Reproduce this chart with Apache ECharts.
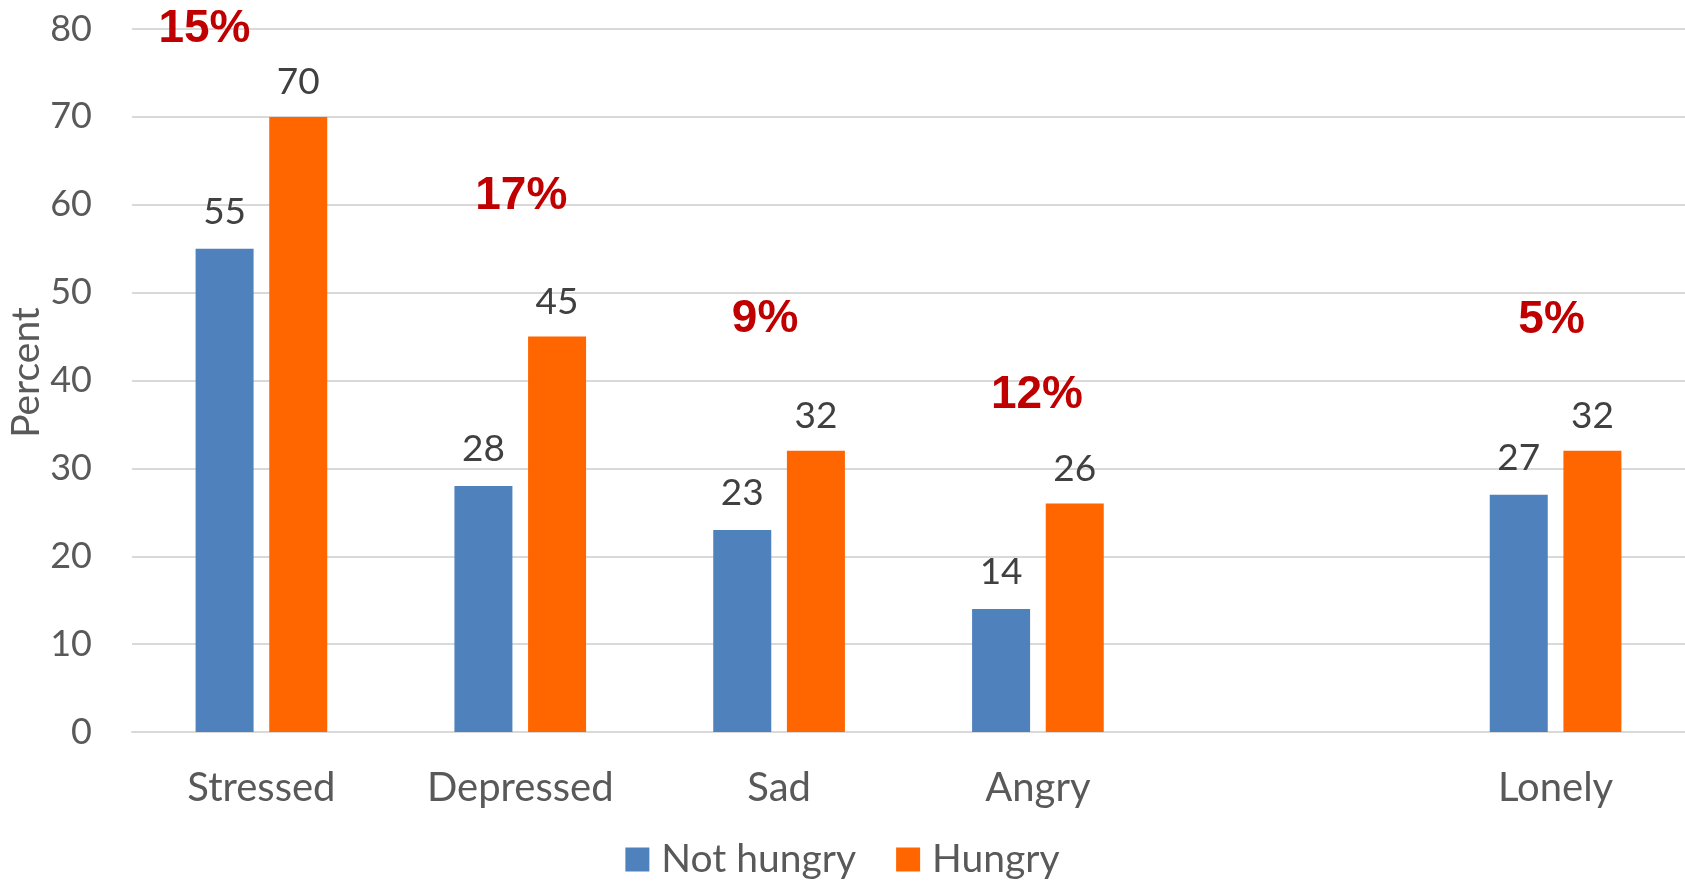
<!DOCTYPE html>
<html>
<head>
<meta charset="utf-8">
<title>Feelings by hunger status</title>
<script src="https://cdn.jsdelivr.net/npm/echarts@6/dist/echarts.min.js"></script>
<style>
  html, body { margin: 0; padding: 0; background: #ffffff; }
  #chart { width: 1685px; height: 882px; }
</style>
</head>
<body>
<div id="chart"></div>
<script>
// Categories (the blank slot leaves an empty gap before "Lonely")
const categories = ['Stressed', 'Depressed', 'Sad', 'Angry', '', 'Lonely'];

// Percent reporting each feeling
const notHungry = [55, 28, 23, 14, null, 27];
const hungry    = [70, 45, 32, 26, null, 32];

// Y axis range
const yMin = 0;
const yMax = 80;
const yStep = 10;

// Gap between the two groups, shown as a red percentage above each pair
const gapLabels = categories.map((c, i) =>
  hungry[i] == null || notHungry[i] == null ? '' : (hungry[i] - notHungry[i]) + '%'
);

// Where each red gap label sits: value level on the y axis and a horizontal nudge in px
const gapPlacement = [
  { level: 80.0, dx: -57 },
  { level: 61.0, dx: 1 },
  { level: 47.0, dx: -14 },
  { level: 38.3, dx: -1 },
  null,
  { level: 46.9, dx: -4 }
];

const FONT = 'Lato, "Open Sans", sans-serif';
const GREY = '#595959';
const DARK = '#404040';

const gapData = [];
categories.forEach((c, i) => {
  const p = gapPlacement[i];
  if (p && gapLabels[i]) {
    gapData.push({
      value: [c, p.level],
      label: { offset: [p.dx, 0], formatter: gapLabels[i] }
    });
  }
});

const chart = echarts.init(document.getElementById('chart'), null, { renderer: 'canvas' });

chart.setOption({
  animation: false,
  backgroundColor: '#ffffff',
  grid: { left: 132, right: 0, top: 29, bottom: 150, containLabel: false, outerBoundsMode: 'none' },
  legend: {
    bottom: -2,
    left: 'center',
    itemWidth: 24,
    itemHeight: 24,
    itemGap: 40,
    icon: 'rect',
    data: ['Not hungry', 'Hungry'],
    textStyle: { fontFamily: FONT, fontSize: 39, color: GREY, padding: [0, 0, 0, 7] }
  },
  xAxis: {
    type: 'category',
    data: categories,
    axisTick: { show: false },
    axisLine: { lineStyle: { color: '#d9d9d9', width: 2 } },
    axisLabel: { fontFamily: FONT, fontSize: 40, color: GREY, margin: 36, interval: 0 }
  },
  yAxis: {
    type: 'value',
    min: yMin,
    max: yMax,
    interval: yStep,
    name: 'Percent',
    nameLocation: 'middle',
    nameRotate: 90,
    nameGap: 86,
    nameMoveOverlap: false,
    nameTextStyle: { fontFamily: FONT, fontSize: 39, color: GREY, padding: [0, 0, 0, 16] },
    axisLine: { show: false },
    axisTick: { show: false },
    axisLabel: { fontFamily: FONT, fontSize: 36, color: GREY, margin: 40 },
    splitLine: { lineStyle: { color: '#d9d9d9', width: 2 } }
  },
  series: [
    {
      name: 'Not hungry',
      type: 'bar',
      data: notHungry,
      barWidth: 58,
      barGap: '27%',
      itemStyle: { color: '#4F81BD' },
      label: {
        show: true, position: 'top', distance: 18,
        fontFamily: FONT, fontSize: 37, color: DARK
      }
    },
    {
      name: 'Hungry',
      type: 'bar',
      data: hungry,
      barWidth: 58,
      barGap: '27%',
      itemStyle: { color: '#FF6600' },
      label: {
        show: true, position: 'top', distance: 16,
        fontFamily: FONT, fontSize: 37, color: DARK
      }
    },
    {
      name: 'gap',
      type: 'scatter',
      data: gapData,
      symbolSize: 2,
      itemStyle: { color: 'rgba(0,0,0,0)', opacity: 1 },
      silent: true,
      z: 5,
      label: {
        show: true,
        position: 'inside',
        opacity: 1,
        fontFamily: '"Liberation Sans", Arial, sans-serif',
        fontWeight: 'bold',
        fontSize: 46,
        color: '#C00000'
      }
    }
  ]
});
</script>
</body>
</html>
